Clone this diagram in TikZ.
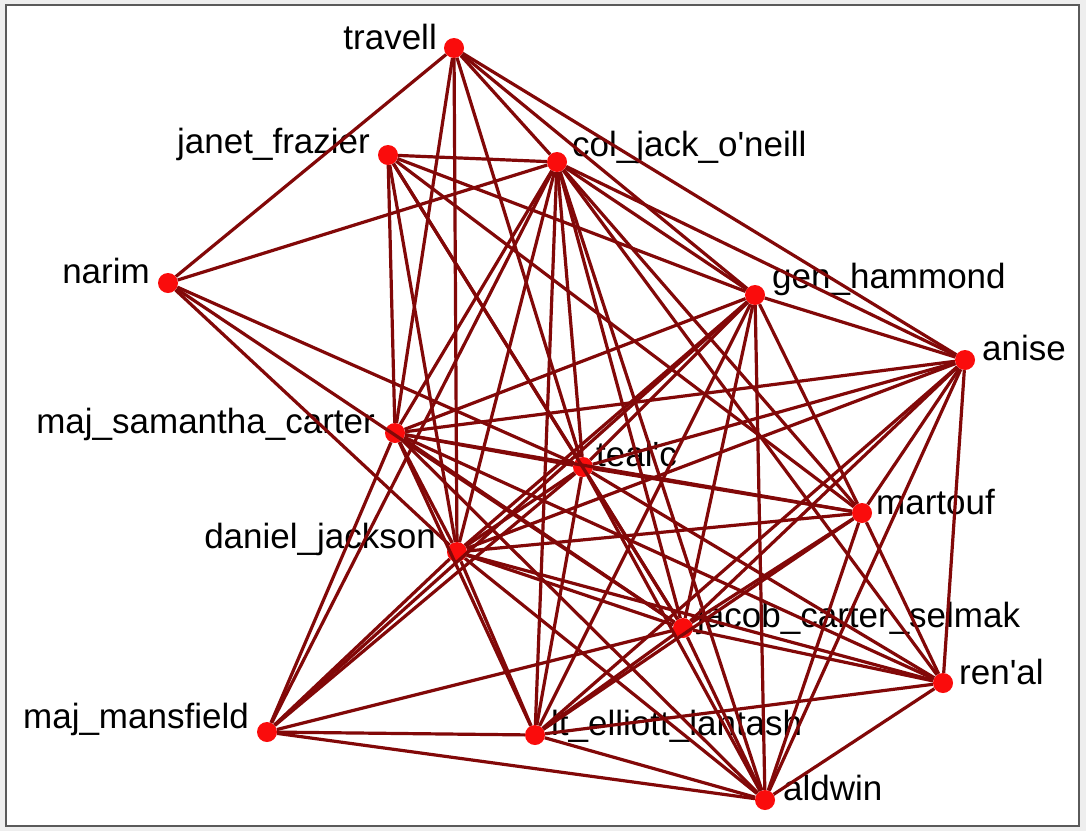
\documentclass[tikz,border=0pt]{standalone}
\usepackage{fontspec}
\setmainfont{Liberation Sans}
\definecolor{edgered}{RGB}{130,8,8}
\definecolor{dotred}{RGB}{250,12,12}
\definecolor{framegray}{RGB}{90,90,90}
\definecolor{outergray}{RGB}{238,238,238}
\newcommand{\lblfont}{\fontsize{35}{40}\selectfont}
\begin{document}
\begin{tikzpicture}[x=1pt,y=-1pt,
  dot/.style={circle,fill=dotred,draw=none,minimum size=20pt,inner sep=0pt},
  edge/.style={draw=edgered,line width=3.2pt},
  lblL/.style={anchor=base east,inner sep=0pt,font=\lblfont},
  lblR/.style={anchor=base west,inner sep=0pt,font=\lblfont}]
\useasboundingbox (0,0) rectangle (1086,831);
\fill[outergray] (0,0) rectangle (1086,831);
\fill[white] (6,5) rectangle (1079,826);
\draw[framegray,line width=1.5pt] (6,5) rectangle (1079,826);
% labels
\node[lblL] (Tl)  at (437,49)  {travell};
\node[lblL] (JFl) at (370,153) {janet\_frazier};
\node[lblR] (CJl) at (572,156) {col\_jack\_o\textquotesingle neill};
\node[lblL] (Nl)  at (150,283) {narim};
\node[lblR] (GHl) at (772,288) {gen\_hammond};
\node[lblR] (ANl) at (982,360) {anise};
\node[lblL] (SCl) at (375,433) {maj\_samantha\_carter};
\node[lblR] (TCl) at (596,466) {teal\textquotesingle c};
\node[lblR] (MTl) at (876,514) {martouf};
\node[lblL] (DJl) at (436,548) {daniel\_jackson};
\node[lblR] (JCl) at (697,627) {jacob\_carter\_selmak};
\node[lblR] (RAl) at (959,684) {ren\textquotesingle al};
\node[lblL] (MMl) at (249,728) {maj\_mansfield};
\node[lblR] (LEl) at (551,735) {lt\_elliott\_lantash};
\node[lblR] (ALl) at (783,800) {aldwin};
% nodes
\node[dot] (T)  at (454,48)  {};
\node[dot] (JF) at (388,155) {};
\node[dot] (CJ) at (557,162) {};
\node[dot] (N)  at (168,283) {};
\node[dot] (GH) at (755,295) {};
\node[dot] (AN) at (965,360) {};
\node[dot] (SC) at (395,433) {};
\node[dot] (TC) at (583,467) {};
\node[dot] (MT) at (862,513) {};
\node[dot] (DJ) at (457,552) {};
\node[dot] (JC) at (683,628) {};
\node[dot] (RA) at (943,683) {};
\node[dot] (MM) at (267,732) {};
\node[dot] (LE) at (535,735) {};
\node[dot] (AL) at (765,800) {};
% edges
\foreach \a/\b in {T/N,T/CJ,T/SC,T/DJ,T/TC,T/GH,T/AN,
  JF/CJ,JF/SC,JF/DJ,JF/TC,JF/MT,JF/GH,JF/JC,
  CJ/N,CJ/GH,CJ/AN,CJ/SC,CJ/DJ,CJ/MM,CJ/TC,CJ/LE,CJ/JC,CJ/AL,CJ/MT,CJ/RA,
  N/TC,N/DJ,N/JC,
  GH/AN,GH/SC,GH/DJ,GH/MM,GH/LE,GH/JC,GH/AL,GH/MT,GH/TC,
  AN/SC,AN/TC,AN/DJ,AN/MT,AN/JC,AN/LE,AN/AL,AN/RA,
  SC/MM,SC/DJ,SC/TC,SC/MT,SC/JC,SC/RA,SC/LE,SC/AL,
  TC/MT,TC/DJ,TC/JC,TC/RA,TC/MM,TC/LE,TC/AL,
  MT/DJ,MT/JC,MT/RA,MT/LE,MT/AL,
  DJ/JC,DJ/RA,DJ/MM,DJ/LE,DJ/AL,
  JC/RA,JC/MM,JC/LE,JC/AL,
  RA/LE,RA/AL,MM/LE,MM/AL,LE/AL}
  {\draw[edge] (\a) -- (\b);}
\end{tikzpicture}
\end{document}
